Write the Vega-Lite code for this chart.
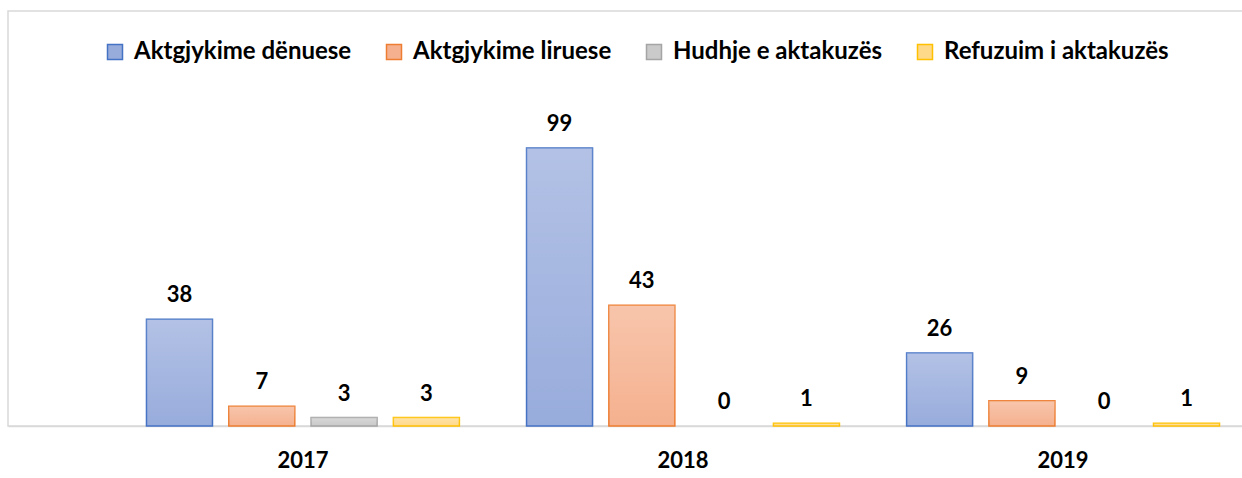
{
  "$schema": "https://vega.github.io/schema/vega-lite/v6.json",
  "width": 1350,
  "height": 415,
  "autosize": {"type": "none"},
  "padding": {"left": 8, "top": 11, "right": 0, "bottom": 52},
  "background": "white",
  "config": {
    "view": {"stroke": "#d9d9d9", "strokeWidth": 1.5},
    "font": "Lato"
  },
  "data": {
    "values": [
      {"year": "2017", "cat": "Aktgjykime dënuese", "v": 38},
      {"year": "2017", "cat": "Aktgjykime liruese", "v": 7},
      {"year": "2017", "cat": "Hudhje e aktakuzës", "v": 3},
      {"year": "2017", "cat": "Refuzuim i aktakuzës", "v": 3},
      {"year": "2018", "cat": "Aktgjykime dënuese", "v": 99},
      {"year": "2018", "cat": "Aktgjykime liruese", "v": 43},
      {"year": "2018", "cat": "Hudhje e aktakuzës", "v": 0},
      {"year": "2018", "cat": "Refuzuim i aktakuzës", "v": 1},
      {"year": "2019", "cat": "Aktgjykime dënuese", "v": 26},
      {"year": "2019", "cat": "Aktgjykime liruese", "v": 9},
      {"year": "2019", "cat": "Hudhje e aktakuzës", "v": 0},
      {"year": "2019", "cat": "Refuzuim i aktakuzës", "v": 1}
    ]
  },
  "encoding": {
    "x": {
      "field": "year", "type": "nominal",
      "scale": {"paddingInner": 0, "paddingOuter": 0.276},
      "axis": {
        "title": null, "labelAngle": 0, "ticks": false,
        "domainColor": "#d9d9d9", "domainWidth": 1.5,
        "labelFont": "Lato", "labelFontSize": 22, "labelFontWeight": "bold",
        "labelColor": "#000000", "labelPadding": 24
      }
    },
    "xOffset": {
      "field": "cat", "type": "nominal",
      "scale": {"paddingInner": 0.198, "paddingOuter": 0.408,
        "domain": ["Aktgjykime dënuese", "Aktgjykime liruese", "Hudhje e aktakuzës", "Refuzuim i aktakuzës"]}
    },
    "y": {
      "field": "v", "type": "quantitative",
      "scale": {"domain": [0, 147.8], "nice": false},
      "axis": null
    }
  },
  "layer": [
    {
      "transform": [{"filter": "datum.v > 0"}],
      "mark": {"type": "bar", "strokeWidth": 1.5},
      "encoding": {
        "fill": {
          "field": "cat", "type": "nominal",
          "scale": {
            "domain": ["Aktgjykime dënuese", "Aktgjykime liruese", "Hudhje e aktakuzës", "Refuzuim i aktakuzës"],
            "range": ["#98acdc", "#f5b18f", "#cacaca", "#ffd98a"]
          },
          "legend": {
            "orient": "none", "legendX": 95, "legendY": 29,
            "direction": "horizontal", "title": null,
            "symbolType": "square", "symbolSize": 225, "symbolStrokeWidth": 1.5,
            "labelFont": "Lato", "labelFontSize": 24, "labelFontWeight": "bold",
            "labelColor": "#000000", "labelOffset": 7, "columnPadding": 30,
            "labelLimit": 400
          }
        },
        "stroke": {
          "field": "cat", "type": "nominal",
          "scale": {
            "domain": ["Aktgjykime dënuese", "Aktgjykime liruese", "Hudhje e aktakuzës", "Refuzuim i aktakuzës"],
            "range": ["#4472c4", "#ed7d31", "#a5a5a5", "#ffc000"]
          },
          "legend": {
            "orient": "none", "legendX": 95, "legendY": 29,
            "direction": "horizontal", "title": null,
            "symbolType": "square", "symbolSize": 225, "symbolStrokeWidth": 1.5,
            "labelFont": "Lato", "labelFontSize": 24, "labelFontWeight": "bold",
            "labelColor": "#000000", "labelOffset": 7, "columnPadding": 30,
            "labelLimit": 400
          }
        }
      }
    },
    {
      "transform": [{"filter": "datum.v > 0"}],
      "mark": {
        "type": "bar", "strokeWidth": 0,
        "fill": {"gradient": "linear", "x1": 0, "y1": 0, "x2": 0, "y2": 1,
          "stops": [{"offset": 0, "color": "rgba(255,255,255,0.26)"}, {"offset": 1, "color": "rgba(255,255,255,0)"}]}
      },
      "encoding": {}
    },
    {
      "mark": {"type": "text", "baseline": "alphabetic", "dy": -17, "font": "Lato", "fontSize": 22, "fontWeight": "bold", "color": "#000000"},
      "encoding": {
        "text": {"field": "v", "type": "quantitative"}
      }
    }
  ]
}
